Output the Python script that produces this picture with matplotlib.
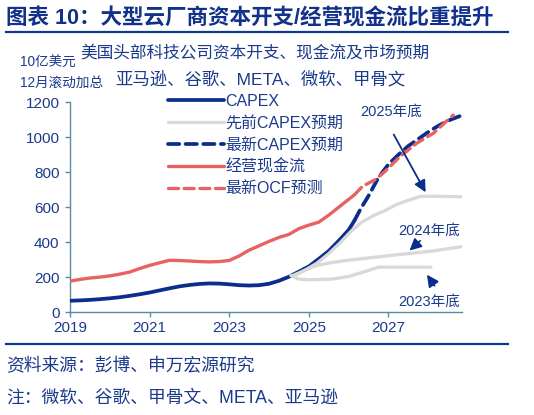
import matplotlib
matplotlib.use('Agg')
from matplotlib import pyplot as plt

plt.rcParams['font.family'] = ['Liberation Sans', 'Noto Sans CJK SC']

# data (billion USD, 12m rolling sum, decimal years)
capex_x = [2019.0, 2019.25, 2019.5, 2019.75, 2020.0, 2020.25, 2020.5, 2020.75,
           2021.0, 2021.25, 2021.5, 2021.75, 2022.0, 2022.25, 2022.5, 2022.75,
           2023.0, 2023.25, 2023.5, 2023.75, 2024.0, 2024.25, 2024.5, 2024.75,
           2025.0, 2025.25, 2025.5, 2025.75, 2026.0, 2026.15]
capex = [66, 68, 71, 75, 80, 86, 94, 103,
         113, 125, 137, 148, 156, 162, 165, 164,
         160, 155, 153, 155, 163, 180, 203, 232,
         262, 305, 350, 408, 470, 525]

capex_new_x = [2026.15, 2026.3, 2026.5, 2026.75, 2027.0, 2027.25, 2027.5,
               2027.75, 2028.0, 2028.25, 2028.5, 2028.84]
capex_new = [525, 590, 665, 770, 845, 900, 950, 990, 1030, 1065, 1095, 1125]

ocf_x = capex_x
ocf = [178, 188, 196, 201, 208, 218, 230, 250,
       268, 283, 297, 296, 293, 290, 288, 290,
       296, 322, 355, 380, 405, 428, 445, 478,
       498, 515, 555, 600, 645, 672]

ocf_new_x = [2026.15, 2026.35, 2026.67, 2026.92, 2027.29, 2027.71, 2028.13, 2028.63]
ocf_new = [672, 720, 758, 806, 889, 966, 1023, 1127]

# earlier capex expectations
prev25_x = [2024.6, 2024.9, 2025.2, 2025.5, 2025.8, 2026.05, 2026.3, 2026.6,
            2026.9, 2027.2, 2027.5, 2027.8, 2028.2, 2028.85]
prev25 = [205, 240, 280, 335, 400, 460, 510, 550, 580, 615, 640, 662, 663, 660]

prev24_x = [2024.6, 2024.9, 2025.2, 2025.6, 2026.0, 2026.4, 2026.8, 2027.25,
            2027.7, 2028.1, 2028.85]
prev24 = [210, 240, 268, 285, 298, 308, 318, 330, 340, 350, 375]

prev23_x = [2024.55, 2024.75, 2025.0, 2025.6, 2026.0, 2026.3, 2026.75, 2027.5, 2028.07]
prev23 = [210, 190, 186, 190, 205, 225, 258, 258, 258]

blue = '#0b2e8c'
red = '#e86262'
grey = '#d9d9d9'
txt = '#1b3a8c'
spine = '#5a8aa0'

fig = plt.figure(figsize=(5.34, 4.15), dpi=100)

# header / footer
fig.text(6 / 534, 1 - 19 / 415, '图表 10：大型云厂商资本开支/经营现金流比重提升',
         fontsize=15.5, fontweight='bold', color='#11318a', va='center')
fig.add_artist(plt.Line2D([6 / 534, 508 / 534], [1 - 32 / 415, 1 - 32 / 415],
                          color='#0b3a93', lw=1.6))
fig.text(80 / 534, 1 - 52 / 415, '美国头部科技公司资本开支、现金流及市场预期',
         fontsize=12, color=txt, va='center')
fig.text(115 / 534, 1 - 79 / 415, '亚马逊、谷歌、META、微软、甲骨文',
         fontsize=12.5, color=txt, va='center')
fig.text(20 / 534, 1 - 63 / 415, '10亿美元', fontsize=9.8, color=txt, va='center')
fig.text(20 / 534, 1 - 83 / 415, '12月滚动加总', fontsize=9.8, color=txt, va='center')

fig.add_artist(plt.Line2D([6 / 534, 508 / 534], [1 - 344 / 415, 1 - 344 / 415],
                          color='#0b3a93', lw=1.6))
fig.text(6 / 534, 1 - 367 / 415, '资料来源：彭博、申万宏源研究',
         fontsize=12.8, color=txt, va='center')
fig.text(6 / 534, 1 - 398 / 415, '注：微软、谷歌、甲骨文、META、亚马逊',
         fontsize=12.8, color=txt, va='center')

ax = fig.add_axes([70 / 534, 1 - 312.3 / 415, 392 / 534, 210 / 415])

ax.plot(capex_x, capex, color=blue, lw=2.7, solid_capstyle='round', label='CAPEX', zorder=3)
ax.plot(prev25_x, prev25, color=grey, lw=2.4, solid_capstyle='round', label='先前CAPEX预期', zorder=4)
ax.plot(prev24_x, prev24, color=grey, lw=2.4, solid_capstyle='round', zorder=4)
ax.plot(prev23_x, prev23, color=grey, lw=2.4, solid_capstyle='round', zorder=4)
ax.plot(capex_new_x, capex_new, color=blue, lw=2.7, ls=(0, (3, 1.7)),
        dash_capstyle='round', label='最新CAPEX预期', zorder=3)
ax.plot(ocf_x, ocf, color=red, lw=2.4, solid_capstyle='round', label='经营现金流', zorder=3)
ax.plot(ocf_new_x, ocf_new, color=red, lw=2.4, ls=(0, (3, 1.7)),
        dash_capstyle='round', label='最新OCF预测', zorder=3)

ax.set_xlim(2019, 2028.85)
ax.set_ylim(0, 1200)
ax.set_xticks([2019, 2021, 2023, 2025, 2027])
ax.set_yticks(range(0, 1201, 200))
for s in ['top', 'right']:
    ax.spines[s].set_visible(False)
for s in ['left', 'bottom']:
    ax.spines[s].set_color(spine)
    ax.spines[s].set_linewidth(1.0)
ax.tick_params(colors=spine, labelcolor=txt, labelsize=11, length=3.5, width=1.0)
ax.tick_params(axis='y', pad=4)
ax.tick_params(axis='x', pad=3)

# annotations for earlier expectations
arrow = dict(arrowstyle='-|>,head_length=0.7,head_width=0.35', color=blue, lw=1.3)
ax.text(2027.07, 1144, '2025年底', fontsize=10.5, color=txt, ha='center', va='center')
ax.annotate('', xy=(2027.97, 672), xytext=(2027.1, 1030), arrowprops=arrow)
ax.text(2028.02, 465, '2024年底', fontsize=10.5, color=txt, ha='center', va='center')
ax.annotate('', xy=(2027.48, 342), xytext=(2027.85, 419), arrowprops=arrow)
ax.text(2028.02, 59, '2023年底', fontsize=10.5, color=txt, ha='center', va='center')
ax.annotate('', xy=(2027.93, 228), xytext=(2028.2, 139), arrowprops=arrow)

leg = fig.legend(loc='upper left', bbox_to_anchor=(168 / 534, 1 - 94 / 415),
                 frameon=False, fontsize=11.5, handlelength=3.5, handletextpad=0.1,
                 labelspacing=0.42, borderpad=0, borderaxespad=0)
for t in leg.get_texts():
    t.set_color(txt)

fig.savefig('out.png', dpi=100)
